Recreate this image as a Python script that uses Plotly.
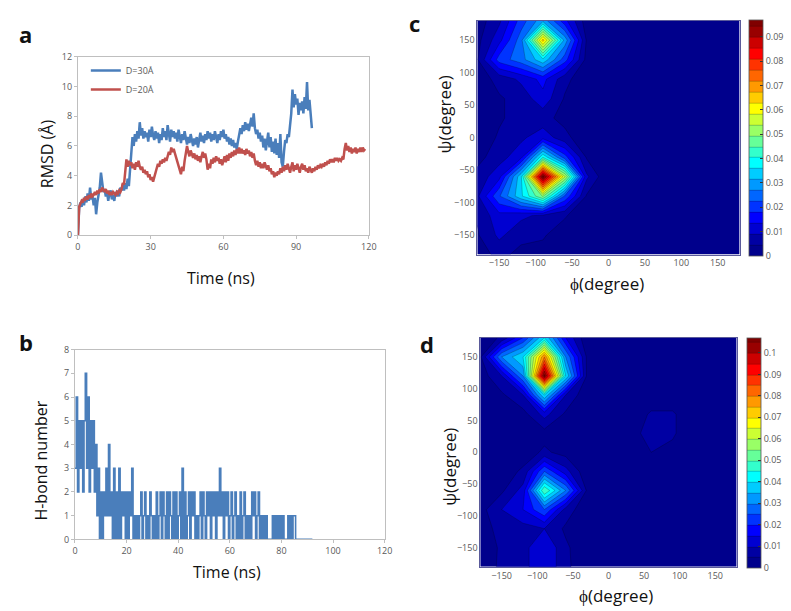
import plotly.graph_objects as go

# ---------------- data ----------------
rmsd_step = 0.5  # ns between samples
rmsd_d30 = [0.0, 1.8, 2.2, 1.9, 2.4, 2.0, 2.6, 2.2, 2.8, 2.3, 3.2, 2.4, 2.6, 2.0, 2.5, 1.4, 2.2, 2.8, 3.2, 4.2,
            3.4, 2.9, 3.1, 2.6, 2.9, 2.3, 2.8, 3.0, 2.4, 2.7, 2.3, 2.9, 2.6, 3.0, 2.6, 3.2, 3.0, 3.4, 3.0, 3.5,
            3.1, 3.8, 3.3, 4.5, 5.5, 6.6, 6.0, 6.8, 6.3, 7.0, 6.5, 7.6, 6.7, 7.2, 6.5, 7.0, 6.6, 6.9, 6.3, 7.1,
            6.6, 7.3, 6.7, 6.4, 7.0, 6.5, 6.9, 6.2, 6.8, 6.4, 7.2, 6.6, 7.0, 6.4, 7.4, 6.8, 6.3, 7.1, 6.6, 7.0,
            6.5, 6.9, 6.3, 7.1, 6.7, 6.2, 6.8, 6.4, 7.0, 6.5, 6.1, 6.6, 6.2, 6.8, 6.3, 6.0, 6.5, 6.1, 6.6, 5.9,
            6.4, 6.9, 6.3, 6.7, 6.2, 6.8, 6.4, 7.0, 6.5, 6.9, 6.3, 6.8, 6.4, 7.0, 6.6, 6.2, 6.8, 6.4, 7.0, 6.6,
            7.1, 6.5, 6.8, 6.3, 6.6, 6.1, 6.5, 6.0, 6.4, 5.9, 6.2, 5.8, 6.3, 6.7, 7.2, 6.8, 7.4, 7.0, 7.6, 7.1,
            7.5, 7.0, 7.4, 7.9, 7.3, 8.2, 7.2, 6.8, 7.1, 6.5, 6.9, 6.3, 6.7, 5.9, 6.5, 5.7, 6.3, 6.9, 5.9, 6.6,
            5.6, 6.3, 5.5, 6.5, 5.4, 6.2, 5.2, 6.8, 4.9, 4.6, 5.6, 6.4, 6.2, 6.8, 6.6, 7.3, 8.2, 9.8, 8.6, 9.5,
            8.8, 9.2, 8.1, 8.9, 8.4, 9.0, 8.2, 9.3, 8.5, 10.3, 8.4, 9.1, 8.0, 7.2]
rmsd_d20 = [0.0, 1.9, 2.1, 2.3, 2.2, 2.5, 2.4, 2.6, 2.4, 2.7, 2.5, 2.8, 2.6, 2.7, 2.9, 2.7, 3.0, 2.8, 3.1, 2.9,
            3.2, 3.0, 2.9, 3.1, 2.8, 3.0, 2.7, 2.9, 2.7, 2.9, 2.8, 2.7, 2.9, 2.8, 3.0, 2.9, 3.1, 3.5, 3.4, 4.2,
            5.1, 4.6, 5.0, 4.7, 4.9, 4.5, 4.8, 4.4, 4.9, 4.6, 5.0, 4.6, 4.4, 4.6, 4.2, 4.4, 4.1, 4.3, 3.9, 4.1,
            3.7, 3.9, 3.6, 3.9, 4.2, 4.6, 4.8, 4.6, 5.0, 4.8, 5.1, 4.9, 5.2, 5.0, 5.3, 5.6, 5.4, 5.9, 5.6, 5.8,
            5.5, 5.2, 4.9, 4.6, 4.4, 4.1, 4.6, 4.3, 5.0, 5.6, 6.0, 5.6, 5.3, 5.7, 5.4, 5.2, 5.5, 5.1, 5.4, 5.0,
            5.3, 4.9, 5.3, 5.6, 5.2, 5.5, 5.1, 4.4, 4.8, 4.5, 5.1, 4.8, 5.2, 4.9, 5.3, 5.0, 5.2, 4.8, 5.1, 4.7,
            5.0, 5.3, 4.9, 5.4, 5.0, 5.5, 5.2, 5.6, 5.3, 5.7, 5.4, 5.8, 5.5, 5.9, 5.5, 5.8, 5.5, 5.7, 5.4, 5.8,
            5.5, 5.7, 5.3, 5.6, 5.2, 5.5, 5.0, 4.7, 5.0, 4.6, 4.9, 4.5, 4.8, 4.5, 4.9, 4.6, 4.4, 4.7, 4.3, 4.5,
            4.1, 4.3, 3.9, 4.2, 4.0, 4.3, 4.1, 4.5, 4.2, 4.6, 4.3, 4.7, 4.4, 4.8, 4.5, 4.2, 4.6, 4.9, 4.3, 4.7,
            4.4, 4.8, 4.5, 4.2, 4.6, 4.8, 4.4, 4.7, 4.3, 4.5, 4.2, 4.6, 4.4, 4.2, 4.5, 4.3, 4.6, 4.4, 4.7, 4.5,
            4.7, 4.6, 4.8, 4.6, 4.9, 4.7, 5.0, 4.8, 5.1, 4.9, 5.1, 4.9, 5.2, 5.0, 5.2, 5.0, 5.1, 5.0, 5.2, 5.1,
            5.8, 6.2, 5.7, 6.0, 5.6, 5.9, 5.5, 5.8, 5.6, 5.9, 5.5, 5.8, 5.6, 5.9, 5.6, 5.9, 5.7, 5.8]
series_names = ["D=30Å", "D=20Å"]

hb_step = 0.5  # ns
hbond = [3, 6, 2, 5, 3, 5, 2, 5, 7, 3, 6, 2, 5, 3, 5, 2, 4, 1, 3, 0,
         2, 0, 2, 1, 3, 1, 4, 1, 2, 0, 3, 0, 2, 0, 3, 0, 2, 1, 2, 0,
         2, 0, 2, 1, 3, 0, 1, 0, 1, 0, 1, 2, 0, 1, 2, 0, 1, 0, 2, 1,
         0, 1, 0, 2, 0, 1, 2, 0, 2, 1, 0, 2, 0, 2, 1, 0, 2, 0, 2, 0,
         1, 2, 0, 3, 0, 2, 0, 1, 2, 0, 2, 1, 2, 0, 1, 0, 1, 2, 0, 2,
         1, 0, 2, 1, 2, 0, 2, 1, 2, 0, 2, 1, 3, 1, 2, 0, 2, 1, 2, 0,
         1, 2, 0, 1, 2, 0, 1, 0, 2, 0, 1, 2, 0, 1, 0, 1, 0, 2, 1, 2,
         0, 1, 2, 0, 1, 0, 1, 0, 1, 0, 0, 0, 0, 1, 0, 1, 0, 1, 0, 1,
         0, 1, 0, 0, 0, 1, 0, 1, 0, 1, 1, 0, 0, 0, 0, 0, 0, 0, 0, 0,
         0, 0, 0, 0, 0]

angles = [-180, -150, -120, -90, -60, -30, 0, 30, 60, 90, 120, 150, 180]
# rows: psi from -180 to 180 ; columns: phi from -180 to 180
z_c = [
    [0.002, 0.006, 0.003, 0.003, 0.001, 0, 0, 0, 0, 0, 0, 0, 0],
    [0.004, 0.010, 0.006, 0.005, 0.002, 0, 0, 0, 0, 0, 0, 0, 0],
    [0.005, 0.012, 0.010, 0.008, 0.005, 0.001, 0, 0, 0, 0, 0, 0, 0],
    [0.008, 0.022, 0.035, 0.050, 0.022, 0.004, 0, 0, 0, 0, 0, 0, 0],
    [0.006, 0.012, 0.035, 0.097, 0.055, 0.010, 0, 0, 0, 0, 0, 0, 0],
    [0.003, 0.007, 0.012, 0.040, 0.020, 0.004, 0, 0, 0, 0, 0, 0, 0],
    [0.002, 0.005, 0.008, 0.012, 0.006, 0.001, 0, 0, 0, 0, 0, 0, 0],
    [0.001, 0.004, 0.006, 0.006, 0.003, 0, 0, 0, 0, 0, 0, 0, 0],
    [0.001, 0.004, 0.006, 0.012, 0.004, 0, 0, 0, 0, 0, 0, 0, 0],
    [0.002, 0.006, 0.010, 0.015, 0.006, 0.001, 0, 0, 0, 0, 0, 0, 0],
    [0.004, 0.020, 0.025, 0.035, 0.020, 0.003, 0, 0, 0, 0, 0, 0, 0],
    [0.003, 0.012, 0.025, 0.065, 0.030, 0.004, 0, 0, 0, 0, 0, 0, 0],
    [0.002, 0.008, 0.020, 0.030, 0.015, 0.002, 0, 0, 0, 0, 0, 0, 0],
]
z_d = [
    [0.002, 0.006, 0.008, 0.015, 0.006, 0.002, 0.002, 0.002, 0.002, 0.002, 0.002, 0.002, 0.002],
    [0.001, 0.006, 0.008, 0.015, 0.006, 0.001, 0, 0, 0, 0, 0, 0, 0],
    [0.001, 0.008, 0.008, 0.010, 0.004, 0, 0, 0, 0, 0, 0, 0, 0],
    [0.003, 0.010, 0.015, 0.025, 0.008, 0.001, 0, 0, 0, 0, 0, 0, 0],
    [0.001, 0.004, 0.012, 0.050, 0.030, 0.004, 0, 0, 0, 0, 0, 0, 0],
    [0, 0.002, 0.006, 0.025, 0.012, 0.001, 0, 0, 0, 0, 0, 0, 0],
    [0, 0.001, 0.002, 0.006, 0.003, 0, 0, 0, 0.005, 0.003, 0, 0, 0],
    [0, 0, 0.001, 0.003, 0.001, 0, 0, 0.002, 0.008, 0.006, 0, 0, 0],
    [0, 0, 0.003, 0.012, 0.004, 0, 0, 0, 0.006, 0.006, 0, 0, 0],
    [0, 0.004, 0.010, 0.040, 0.010, 0.001, 0, 0, 0, 0, 0, 0, 0],
    [0.002, 0.010, 0.030, 0.107, 0.040, 0.004, 0, 0, 0, 0, 0, 0, 0],
    [0.004, 0.030, 0.040, 0.080, 0.030, 0.004, 0, 0, 0, 0, 0, 0, 0],
    [0.001, 0.006, 0.020, 0.040, 0.015, 0.001, 0, 0, 0, 0, 0, 0, 0],
]
cb_c_ticks = [0, 0.01, 0.02, 0.03, 0.04, 0.05, 0.06, 0.07, 0.08, 0.09]
cb_d_ticks = [0, 0.01, 0.02, 0.03, 0.04, 0.05, 0.06, 0.07, 0.08, 0.09, 0.1]

# ---------------- styling ----------------
W, H = 791, 611
FONT = "Open Sans"
GRAY = "#595959"
BLUE = "#4A7EBB"
RED = "#C0504D"
jet = [[0.0, "rgb(0,0,140)"], [0.125, "rgb(0,0,255)"], [0.375, "rgb(0,255,255)"],
       [0.625, "rgb(255,255,0)"], [0.875, "rgb(255,0,0)"], [1.0, "rgb(128,0,0)"]]


def px_x(a, b):
    return [a / W, b / W]


def px_y(top, bottom):
    return [1 - bottom / H, 1 - top / H]


t30 = [i * rmsd_step for i in range(len(rmsd_d30))]
t20 = [i * rmsd_step for i in range(len(rmsd_d20))]
thb = [i * hb_step for i in range(len(hbond))]

fig = go.Figure()
fig.add_trace(go.Scatter(x=t30, y=rmsd_d30, mode="lines", name=series_names[0],
                         line=dict(color=BLUE, width=2.5), xaxis="x", yaxis="y"))
fig.add_trace(go.Scatter(x=t20, y=rmsd_d20, mode="lines", name=series_names[1],
                         line=dict(color=RED, width=2.5), xaxis="x", yaxis="y"))
fig.add_trace(go.Scatter(x=thb, y=hbond, mode="lines", showlegend=False,
                         line=dict(color=BLUE, width=1.6, shape="hv"), xaxis="x2", yaxis="y2"))

cont_common = dict(x=angles, y=angles, colorscale=jet, showlegend=False,
                   line=dict(color="rgba(0,0,0,0.45)", width=0.5, smoothing=0))
fig.add_trace(go.Contour(z=z_c, xaxis="x3", yaxis="y3", zmin=0, zmax=0.097,
                         contours=dict(start=0.0045, end=0.097, size=0.0045, coloring="fill"),
                         colorbar=dict(x=757 / W, xanchor="left", y=1 - 13 / H, yanchor="top",
                                       len=241 / H, lenmode="fraction", thickness=14,
                                       outlinewidth=0.8, outlinecolor="#555", ticks="inside",
                                       ticklen=3, tickcolor="#333", tickvals=cb_c_ticks,
                                       ticktext=[str(v) for v in cb_c_ticks],
                                       tickfont=dict(family=FONT, size=9, color=GRAY), xpad=0, ypad=0),
                         **cont_common))
fig.add_trace(go.Contour(z=z_d, xaxis="x4", yaxis="y4", zmin=0, zmax=0.107,
                         contours=dict(start=0.005, end=0.107, size=0.005, coloring="fill"),
                         colorbar=dict(x=754 / W, xanchor="left", y=1 - 338 / H, yanchor="top",
                                       len=235 / H, lenmode="fraction", thickness=14,
                                       outlinewidth=0.8, outlinecolor="#555", ticks="inside",
                                       ticklen=3, tickcolor="#333", tickvals=cb_d_ticks,
                                       ticktext=[str(v) for v in cb_d_ticks],
                                       tickfont=dict(family=FONT, size=9, color=GRAY), xpad=0, ypad=0),
                         **cont_common))

tickf = dict(family=FONT, size=9, color=GRAY)
line_ax = dict(showline=True, linecolor="#BFBFBF", linewidth=1, mirror=True, showgrid=False,
               zeroline=False, tickfont=tickf, ticks="outside", ticklen=3, tickcolor="#BFBFBF")
deg_ax = dict(showline=True, linecolor="#5a5a9a", linewidth=0.8, mirror=True, showgrid=False,
              zeroline=False, tickfont=tickf, ticks="", range=[-180, 180],
              tickvals=[-150, -100, -50, 0, 50, 100, 150])

fig.update_layout(
    width=W, height=H, margin=dict(l=0, r=0, t=0, b=0),
    paper_bgcolor="white", plot_bgcolor="white",
    font=dict(family=FONT, color="#222"),
    xaxis=dict(domain=px_x(76, 371), range=[0, 120], tickvals=[0, 30, 60, 90, 120],
               anchor="y", **line_ax),
    yaxis=dict(domain=px_y(51, 233), range=[0, 12], tickvals=[0, 2, 4, 6, 8, 10, 12],
               anchor="x", **line_ax),
    xaxis2=dict(domain=px_x(73, 387), range=[0, 120], tickvals=[0, 20, 40, 60, 80, 100, 120],
                anchor="y2", **line_ax),
    yaxis2=dict(domain=px_y(350, 544), range=[0, 8], tickvals=list(range(9)),
                anchor="x2", **line_ax),
    xaxis3=dict(domain=px_x(481, 747), anchor="y3", **deg_ax),
    yaxis3=dict(domain=px_y(14, 253), anchor="x3", **deg_ax),
    xaxis4=dict(domain=px_x(484, 744), anchor="y4", **deg_ax),
    yaxis4=dict(domain=px_y(338, 572), anchor="x4", **deg_ax),
    legend=dict(x=84 / W, y=1 - 50 / H, xanchor="left", yanchor="top",
                bgcolor="rgba(0,0,0,0)", font=dict(family=FONT, size=9, color=GRAY),
                itemwidth=30, tracegroupgap=4),
)

ann = []


def txt(x, y, s, size, angle=0, bold=False, xanchor="center"):
    ann.append(dict(x=x / W, y=1 - y / H, xref="paper", yref="paper", text=("<b>%s</b>" % s) if bold else s,
                    showarrow=False, textangle=angle, xanchor=xanchor, yanchor="middle",
                    font=dict(family=FONT, size=size, color="#111")))


txt(14, 28, "a", 22, bold=True, xanchor="left")
txt(14, 342, "b", 22, bold=True, xanchor="left")
txt(410, 16, "c", 22, bold=True, xanchor="left")
txt(421, 344, "d", 22, bold=True, xanchor="left")
txt(44, 150, "RMSD (Å)", 16, angle=-90)
txt(221, 277, "Time (ns)", 16)
txt(39, 463, "H-bond number", 16, angle=-90)
txt(227, 577, "Time (ns)", 16)
txt(448, 110, "ψ(degree)", 17, angle=-90)
txt(613, 283, "ϕ(degree)", 17)
txt(452, 470, "ψ(degree)", 17, angle=-90)
txt(622, 601, "ϕ(degree)", 17)
fig.update_layout(annotations=ann)

fig.write_html("out.html")
